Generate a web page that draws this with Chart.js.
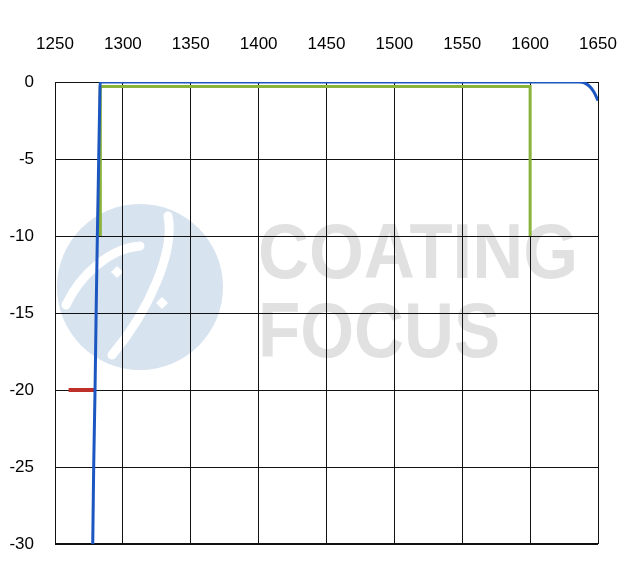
<!DOCTYPE html>
<html>
<head>
<meta charset="utf-8">
<script src="https://cdn.jsdelivr.net/npm/chart.js@4"></script>
<style>
  html, body { margin: 0; padding: 0; background: #fff; }
  canvas { display: block; }
</style>
</head>
<body>
<canvas id="chart" width="633" height="574"></canvas>
<script>
// measured curve (blue)
const measuredX = [1277.8, 1278.5, 1279.5, 1280.3, 1281.2, 1282, 1282.8, 1283.3, 1400, 1500, 1600, 1636, 1640, 1644, 1647, 1650];
const measuredY = [-30, -25, -20, -15, -10, -6, -2, 0, 0, 0, 0, 0, -0.05, -0.3, -0.65, -1.2];

// spec mask (green)
const maskX = [1283.4, 1283.4, 1600, 1600];
const maskY = [-10, -0.3, -0.3, -10];

// blocking spec (red)
const blockX = [1260, 1279];
const blockY = [-20, -20];

const xTicks = [1250, 1300, 1350, 1400, 1450, 1500, 1550, 1600, 1650];
const yTicks = [0, -5, -10, -15, -20, -25, -30];

const toPoints = (xs, ys) => xs.map((x, i) => ({ x: x, y: ys[i] }));

const tickFont = { family: "'Liberation Sans', sans-serif", size: 17 };

// faint watermark behind the grid
const watermark = {
    id: "watermark",
    beforeDraw(chart) {
        const ctx = chart.ctx;
        ctx.save();
        ctx.fillStyle = "#d7e3ef";
        ctx.beginPath();
        ctx.arc(140, 287, 83, 0, Math.PI * 2);
        ctx.fill();

        ctx.strokeStyle = "#fff";
        ctx.lineCap = "round";
        ctx.lineWidth = 9;
        ctx.beginPath();
        ctx.moveTo(168, 216);
        ctx.bezierCurveTo(175, 250, 150, 310, 112, 355);
        ctx.stroke();
        ctx.beginPath();
        ctx.moveTo(140, 246);
        ctx.bezierCurveTo(110, 248, 80, 275, 66, 305);
        ctx.stroke();

        ctx.fillStyle = "#fff";
        [[117, 272], [162, 303]].forEach(([cx, cy]) => {
            ctx.beginPath();
            ctx.moveTo(cx, cy - 6);
            ctx.lineTo(cx + 6, cy);
            ctx.lineTo(cx, cy + 6);
            ctx.lineTo(cx - 6, cy);
            ctx.closePath();
            ctx.fill();
        });

        ctx.fillStyle = "#e1e1e1";
        ctx.font = "bold 77px 'Liberation Sans', sans-serif";
        ctx.textBaseline = "alphabetic";
        ctx.fillText("COATING", 258, 278, 320);
        ctx.fillText("FOCUS", 258, 357, 242);
        ctx.restore();
    }
};

new Chart(document.getElementById("chart"), {
    type: "scatter",
    data: {
        datasets: [
            {
                label: "measured",
                data: toPoints(measuredX, measuredY),
                showLine: true,
                borderColor: "#1c56c0",
                borderWidth: 3,
                pointRadius: 0,
                cubicInterpolationMode: "monotone",
                order: 1
            },
            {
                label: "mask",
                data: toPoints(maskX, maskY),
                showLine: true,
                borderColor: "#8ab33a",
                borderWidth: 3,
                pointRadius: 0,
                order: 2
            },
            {
                label: "block",
                data: toPoints(blockX, blockY),
                showLine: true,
                borderColor: "#c0302a",
                borderWidth: 4,
                pointRadius: 0,
                order: 3
            }
        ]
    },
    options: {
        responsive: false,
        animation: false,
        layout: { padding: { left: 0, right: 35, top: 0, bottom: 30 } },
        plugins: {
            legend: { display: false },
            tooltip: { enabled: false }
        },
        scales: {
            x: {
                type: "linear",
                position: "top",
                min: 1250,
                max: 1650,
                afterBuildTicks: s => { s.ticks = xTicks.map(v => ({ value: v })); },
                afterFit: s => { s.height = 82; s.paddingLeft = 0; s.paddingRight = 0; },
                ticks: { color: "#000", font: tickFont, padding: 27, maxRotation: 0, callback: v => String(v) },
                grid: { color: "#111", lineWidth: 1, drawTicks: false },
                border: { color: "#111" }
            },
            y: {
                min: -30,
                max: 0,
                afterBuildTicks: s => { s.ticks = yTicks.map(v => ({ value: v })); },
                afterFit: s => { s.width = 55; s.paddingTop = 0; s.paddingBottom = 0; },
                ticks: { color: "#000", font: tickFont, padding: 21, callback: v => String(v) },
                grid: {
                    color: "#111",
                    lineWidth: c => (c.tick && c.tick.value === -30 ? 2 : 1),
                    drawTicks: false
                },
                border: { color: "#111" }
            }
        }
    },
    plugins: [watermark]
});
</script>
</body>
</html>
